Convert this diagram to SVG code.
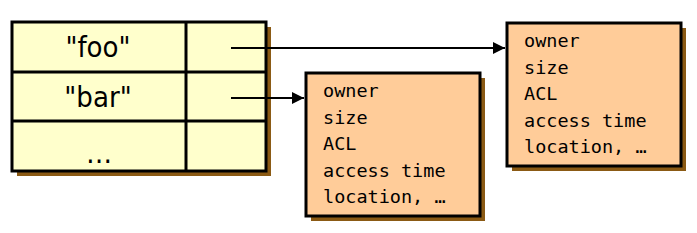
<svg xmlns="http://www.w3.org/2000/svg" width="697" height="233" viewBox="0 0 697 233">
<defs>
<marker id="ah" viewBox="0 0 12 12" refX="12" refY="6" markerWidth="12" markerHeight="12" markerUnits="userSpaceOnUse" orient="auto">
<path d="M0,0 L12,6 L0,12 Z" fill="#000"/>
</marker>
</defs>
<style>
.shadow{fill:#8B5A14;}
.table{fill:#FFFFCC;stroke:#000;stroke-width:3;}
.box{fill:#FFCC99;stroke:#000;stroke-width:3;}
.key{font-family:"DejaVu Sans Condensed","DejaVu Sans",sans-serif;font-stretch:condensed;font-size:29px;fill:#000;text-anchor:middle;}
.attr{font-family:"DejaVu Sans Mono","Liberation Mono",monospace;font-size:18.5px;fill:#000;}
.conn{stroke:#000;stroke-width:2;fill:none;marker-end:url(#ah);}
</style>
<g id="table">
<rect class="shadow" x="17" y="27" width="254" height="149"/>
<rect class="table" x="12" y="22" width="254" height="149"/>
<line x1="12" y1="72" x2="266" y2="72" stroke="#000" stroke-width="3"/>
<line x1="12" y1="121" x2="266" y2="121" stroke="#000" stroke-width="3"/>
<line x1="186" y1="22" x2="186" y2="171" stroke="#000" stroke-width="3"/>
<text class="key" x="98" y="56.5">"foo"</text>
<text class="key" x="98" y="106.5">"bar"</text>
<text class="key" x="99" y="163">…</text>
</g>
<g id="inode-foo">
<rect class="shadow" x="512" y="28" width="174" height="143"/>
<rect class="box" x="507" y="23" width="174" height="143"/>
<text class="attr" x="524" y="47">owner</text>
<text class="attr" x="524" y="73.5">size</text>
<text class="attr" x="524" y="100">ACL</text>
<text class="attr" x="524" y="126.5">access time</text>
<text class="attr" x="524" y="153">location, …</text>
</g>
<g id="inode-bar">
<rect class="shadow" x="311" y="78" width="174" height="143"/>
<rect class="box" x="306" y="73" width="174" height="143"/>
<text class="attr" x="323" y="97">owner</text>
<text class="attr" x="323" y="123.5">size</text>
<text class="attr" x="323" y="150">ACL</text>
<text class="attr" x="323" y="176.5">access time</text>
<text class="attr" x="323" y="203">location, …</text>
</g>
<g id="connectors">
<line class="conn" x1="231" y1="48" x2="505" y2="48"/>
<line class="conn" x1="231" y1="98" x2="304" y2="98"/>
</g>
</svg>
